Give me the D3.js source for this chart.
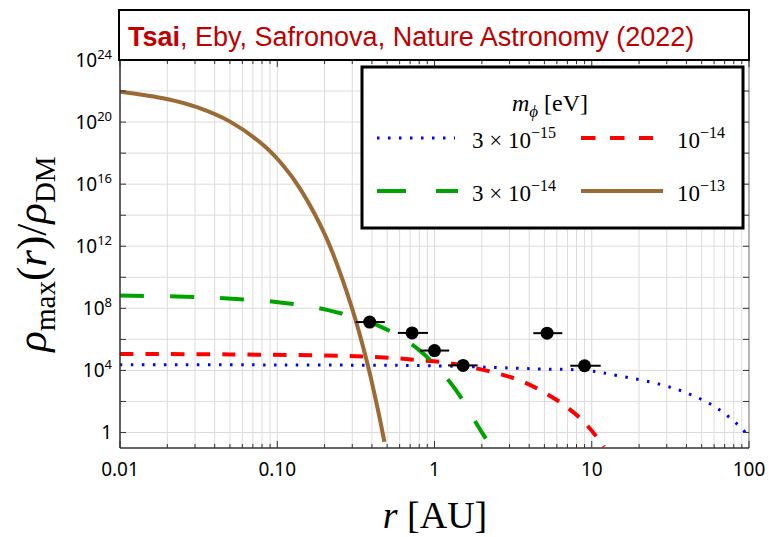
<!DOCTYPE html>
<html>
<head>
<meta charset="utf-8">
<script src="https://cdn.jsdelivr.net/npm/d3@7"></script>
<style>
  body { margin: 0; background: #fff; }
  svg { display: block; }
</style>
</head>
<body>
<div id="chart"></div>
<script>
// curves: r in AU, rho_max / rho_DM
var blueR   = [0.01, 0.1, 1.08, 4.35, 9.3, 14.7, 27.2, 42.2, 63.5, 90.3, 100];
var blueRho = [2.3e4, 2.25e4, 1.95e4, 1.26e4, 9.8e3, 4.6e3, 1.26e3, 290, 34, 1.74, 0.52];

var redR   = [0.01, 0.05, 0.27, 0.40, 0.56, 0.77, 1.2, 2.5, 3.55, 4.9, 6.65, 8.9, 11.3, 12];
var redRho = [1.15e5, 1.07e5, 8.7e4, 7.4e4, 6.2e4, 4.6e4, 3.1e4, 6.5e3, 2.1e3, 420, 60, 4.9, 0.27, 0.12];

var greenR   = [0.01, 0.023, 0.0486, 0.101, 0.207, 0.45, 0.796, 1.31, 1.92, 2.12];
var greenRho = [6.6e8, 5.75e8, 4.3e8, 2.5e8, 7.9e7, 6.8e6, 2.1e5, 1000, 2, 0.4];

var brownR   = [0.01, 0.0198, 0.0308, 0.0501, 0.0815, 0.109, 0.14, 0.206, 0.297, 0.371, 0.44, 0.48];
var brownRho = [9.1e21, 3.1e21, 9.1e20, 1.07e20, 3.3e18, 1.6e17, 5e15, 3.2e12, 1.26e8, 4e4, 20, 0.25];

// planets
var pointR   = [0.387, 0.72, 1.0, 1.52, 5.2, 9.0];
var pointRho = [1.3e7, 2.6e6, 1.9e5, 2.1e4, 2.5e6, 2.0e4];
var pointLo  = [0.315, 0.585, 0.81, 1.22, 4.25, 7.3];
var pointHi  = [0.483, 0.91, 1.24, 1.88, 6.5, 11.4];

var xTicks = [0.01, 0.1, 1, 10, 100];
var xTickLabels = ["0.01", "0.10", "1", "10", "100"];
var yTickExps = [24, 20, 16, 12, 8, 4, 0];

var legendMasses = [["3 \u00d7 10", "\u221215"], ["10", "\u221214"], ["3 \u00d7 10", "\u221214"], ["10", "\u221213"]];

var width = 769, height = 537;
var plot = {left: 120, right: 749, top: 60, bottom: 448};

var svg = d3.select("#chart").append("svg")
    .attr("width", width)
    .attr("height", height);

var x = d3.scaleLog().domain([0.01, 100]).range([plot.left, plot.right]);
var y = d3.scaleLog().domain([0.1, 1e24]).range([plot.bottom, plot.top]);

svg.append("defs").append("clipPath").attr("id", "clip")
    .append("rect")
    .attr("x", plot.left).attr("y", plot.top)
    .attr("width", plot.right - plot.left).attr("height", plot.bottom - plot.top);

// grid
var xGrid = [];
[0.01, 0.1, 1, 10].forEach(function(d) {
    for (var k = 1; k < 10; k++) xGrid.push(d * k);
});
var yGrid = d3.range(0, 25, 2).map(function(e) { return Math.pow(10, e); });

var grid = svg.append("g");
grid.selectAll(".vg").data(xGrid).enter().append("line")
    .attr("x1", d => x(d)).attr("x2", d => x(d))
    .attr("y1", plot.top).attr("y2", plot.bottom)
    .style("stroke", "#dcdcdc").style("stroke-width", 1);
grid.selectAll(".hg").data(yGrid).enter().append("line")
    .attr("x1", plot.left).attr("x2", plot.right)
    .attr("y1", d => y(d)).attr("y2", d => y(d))
    .style("stroke", "#dcdcdc").style("stroke-width", 1);

// curves
var line = d3.line()
    .x(d => x(d[0]))
    .y(d => y(d[1]))
    .curve(d3.curveCatmullRom.alpha(0.5));

var curves = [
    {r: blueR, rho: blueRho, color: "#0000ff", w: 3, dash: "2.5 8.5"},
    {r: redR, rho: redRho, color: "#ff0000", w: 4, dash: "13.5 12"},
    {r: greenR, rho: greenRho, color: "#00a400", w: 4, dash: "24 26"},
    {r: brownR, rho: brownRho, color: "#9c6a34", w: 4, dash: null}
];

var curveG = svg.append("g").attr("clip-path", "url(#clip)");
curves.forEach(function(c) {
    curveG.append("path")
        .datum(c.r.map((r, i) => [r, c.rho[i]]))
        .attr("d", line)
        .style("fill", "none")
        .style("stroke", c.color)
        .style("stroke-width", c.w)
        .style("stroke-dasharray", c.dash);
});

// data points with error bars
var pts = svg.append("g");
pts.selectAll(".err").data(pointR).enter().append("line")
    .attr("x1", (d, i) => x(pointLo[i])).attr("x2", (d, i) => x(pointHi[i]))
    .attr("y1", (d, i) => y(pointRho[i])).attr("y2", (d, i) => y(pointRho[i]))
    .style("stroke", "#000").style("stroke-width", 2);
pts.selectAll(".dot").data(pointR).enter().append("circle")
    .attr("cx", d => x(d)).attr("cy", (d, i) => y(pointRho[i]))
    .attr("r", 6.5).style("fill", "#000");

// frame and ticks
var frame = svg.append("g");
frame.append("line").attr("x1", plot.right).attr("x2", plot.right)
    .attr("y1", plot.top).attr("y2", plot.bottom)
    .style("stroke", "#888").style("stroke-width", 1.2);
frame.append("line").attr("x1", plot.left).attr("x2", plot.left)
    .attr("y1", plot.top).attr("y2", plot.bottom)
    .style("stroke", "#333").style("stroke-width", 1.5);
frame.append("line").attr("x1", plot.left).attr("x2", plot.right)
    .attr("y1", plot.bottom).attr("y2", plot.bottom)
    .style("stroke", "#333").style("stroke-width", 1.5);

[plot.bottom, plot.top].forEach(function(yy, k) {
    var dir = k === 0 ? -1 : 1;
    frame.selectAll(".xt" + k).data(xGrid.concat([100])).enter().append("line")
        .attr("x1", d => x(d)).attr("x2", d => x(d))
        .attr("y1", yy)
        .attr("y2", d => yy + dir * (Math.abs(Math.log10(d) - Math.round(Math.log10(d))) > 1e-6 ? 4 : 7))
        .style("stroke", "#333").style("stroke-width", 1);
});
[plot.left, plot.right].forEach(function(xx, k) {
    var dir = k === 0 ? 1 : -1;
    frame.selectAll(".yt" + k).data(yGrid).enter().append("line")
        .attr("x1", xx).attr("x2", xx + dir * 6)
        .attr("y1", d => y(d)).attr("y2", d => y(d))
        .style("stroke", "#333").style("stroke-width", 1);
});

// tick labels
var tickFont = "'Noto Sans', sans-serif";
svg.append("g").selectAll("text").data(xTicks).enter().append("text")
    .attr("x", d => x(d)).attr("y", 476)
    .attr("text-anchor", "middle")
    .style("font-family", tickFont).style("font-size", "19px")
    .text((d, i) => xTickLabels[i]);

var yLab = svg.append("g").selectAll("text").data(yTickExps).enter().append("text")
    .attr("x", 112).attr("y", d => y(Math.pow(10, d)) + 7)
    .attr("text-anchor", "end")
    .style("font-family", tickFont).style("font-size", "19px");
yLab.each(function(e) {
    var t = d3.select(this);
    if (e === 0) { t.text("1"); return; }
    t.append("tspan").text("10");
    t.append("tspan").attr("dy", -8).style("font-size", "13px").text(e);
});

// axis titles
var serif = "'Liberation Serif', 'DejaVu Serif', serif";
var xt = svg.append("text")
    .attr("x", 435).attr("y", 528)
    .attr("text-anchor", "middle")
    .style("font-family", serif).style("font-size", "38px");
xt.append("tspan").style("font-style", "italic").text("r");
xt.append("tspan").text(" [AU]");

var yt = svg.append("text")
    .attr("transform", "translate(46,254) rotate(-90)")
    .attr("text-anchor", "middle")
    .style("font-family", serif).style("font-size", "43px");
yt.append("tspan").style("font-style", "italic").text("\u03c1");
yt.append("tspan").attr("dy", 9).style("font-size", "29px").text("max");
yt.append("tspan").attr("dy", -9).text("(");
yt.append("tspan").style("font-style", "italic").text("r");
yt.append("tspan").text(")/");
yt.append("tspan").style("font-style", "italic").text("\u03c1");
yt.append("tspan").attr("dy", 9).style("font-size", "29px").text("DM");

// legend
var lg = svg.append("g");
lg.append("rect")
    .attr("x", 362).attr("y", 67).attr("width", 381).attr("height", 161)
    .style("fill", "#fff").style("stroke", "#000").style("stroke-width", 3);

var lt = lg.append("text")
    .attr("x", 550).attr("y", 111)
    .attr("text-anchor", "middle")
    .style("font-family", serif).style("font-size", "24px");
lt.append("tspan").style("font-style", "italic").text("m");
lt.append("tspan").attr("dy", 6).style("font-style", "italic").style("font-size", "17px").text("\u03d5");
lt.append("tspan").attr("dy", -6).text(" [eV]");

var legendPos = [
    {x1: 377, x2: 455, lx: 472, yl: 138, dash: "2.5 8.5"},
    {x1: 581, x2: 653, lx: 677, yl: 138, dash: "14.5 14.5"},
    {x1: 377, x2: 458, lx: 472, yl: 191, dash: "29 30"},
    {x1: 581, x2: 663, lx: 677, yl: 191, dash: null}
];
legendPos.forEach(function(p, i) {
    lg.append("line")
        .attr("x1", p.x1).attr("x2", p.x2).attr("y1", p.yl).attr("y2", p.yl)
        .style("stroke", curves[i].color)
        .style("stroke-width", curves[i].w)
        .style("stroke-dasharray", p.dash);
    var t = lg.append("text")
        .attr("x", p.lx).attr("y", p.yl + 10)
        .style("font-family", serif).style("font-size", "23px");
    t.append("tspan").text(legendMasses[i][0]);
    t.append("tspan").attr("dy", -10).style("font-size", "16px").text(legendMasses[i][1]);
});

// title box
svg.append("rect")
    .attr("x", 119).attr("y", 10).attr("width", 630).attr("height", 50)
    .style("fill", "#fff").style("stroke", "#000").style("stroke-width", 2);
var title = svg.append("text")
    .attr("x", 128).attr("y", 46)
    .style("font-family", "'Liberation Sans', Arial, sans-serif")
    .style("font-size", "27px")
    .style("fill", "#c00000");
title.append("tspan").style("font-weight", "bold").text("Tsai");
title.append("tspan").text(", Eby, Safronova, Nature Astronomy (2022)");
</script>
</body>
</html>
